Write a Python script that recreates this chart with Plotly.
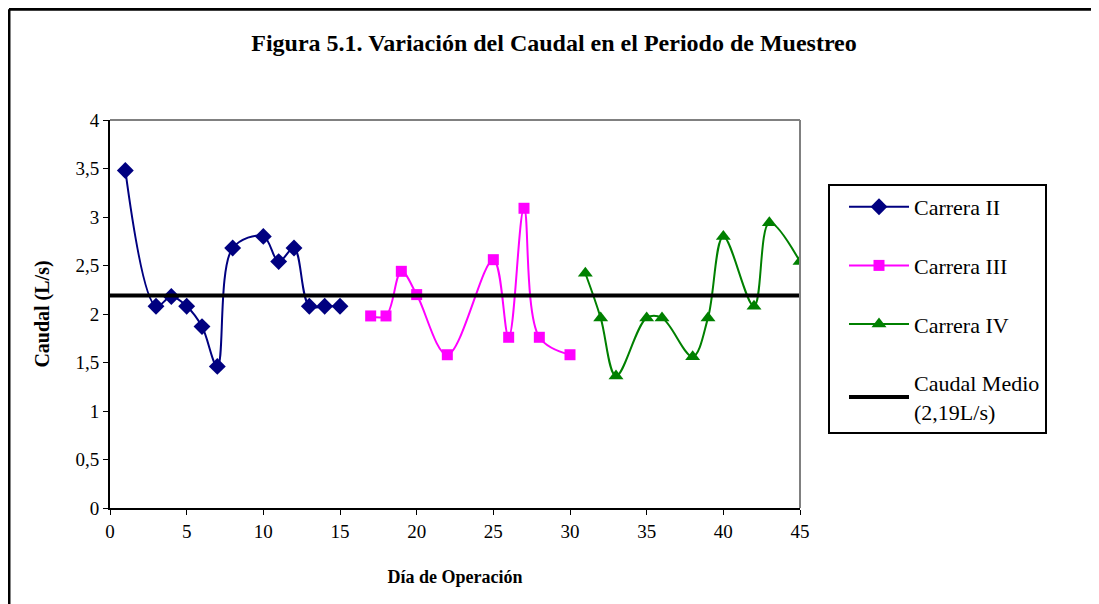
import plotly.graph_objects as go

# Data
dias_ii = [1, 3, 4, 5, 6, 7, 8, 10, 11, 12, 13, 14, 15]
caudal_ii = [3.48, 2.08, 2.18, 2.08, 1.87, 1.46, 2.68, 2.80, 2.54, 2.68, 2.08, 2.08, 2.08]

dias_iii = [17, 18, 19, 20, 22, 25, 26, 27, 28, 30]
caudal_iii = [1.98, 1.98, 2.44, 2.20, 1.58, 2.56, 1.76, 3.09, 1.76, 1.58]

dias_iv = [31, 32, 33, 35, 36, 38, 39, 40, 42, 43, 45]
caudal_iv = [2.42, 1.96, 1.36, 1.96, 1.96, 1.56, 1.96, 2.80, 2.08, 2.94, 2.54]

medio_x = [0, 45]
medio_y = [2.19, 2.19]

FONT = "Liberation Serif"

fig = go.Figure()
fig.add_trace(go.Scatter(
    x=dias_ii, y=caudal_ii, name="Carrera II", legendgroup="a",
    mode="lines+markers", line=dict(color="#000080", width=2, shape="spline", smoothing=1),
    marker=dict(symbol="diamond", size=13, color="#000080")))
fig.add_trace(go.Scatter(
    x=dias_iii, y=caudal_iii, name="Carrera III", legendgroup="b",
    mode="lines+markers", line=dict(color="#FF00FF", width=2, shape="spline", smoothing=1),
    marker=dict(symbol="square", size=11, color="#FF00FF")))
fig.add_trace(go.Scatter(
    x=dias_iv, y=caudal_iv, name="Carrera IV", legendgroup="c",
    mode="lines+markers", line=dict(color="#008000", width=2, shape="spline", smoothing=1),
    marker=dict(symbol="triangle-up", size=13, color="#008000")))
fig.add_trace(go.Scatter(
    x=medio_x, y=medio_y, name="Caudal Medio<br>(2,19L/s)", legendgroup="d",
    mode="lines", line=dict(color="black", width=4)))

shapes = [
    # plot area top/right gray border
    dict(type="line", xref="paper", yref="paper", x0=0, x1=1, y0=1, y1=1,
         line=dict(color="#808080", width=2)),
    dict(type="line", xref="paper", yref="paper", x0=1, x1=1, y0=0, y1=1,
         line=dict(color="#808080", width=2)),
    # outer chart border (top and left)
    dict(type="line", xref="paper", yref="paper", x0=-0.1464, x1=1.45, y0=1.2855, y1=1.2855,
         line=dict(color="black", width=3)),
    dict(type="line", xref="paper", yref="paper", x0=-0.1464, x1=-0.1464, y0=-0.3, y1=1.2855,
         line=dict(color="black", width=3)),
]

fig.update_layout(
    width=1091, height=596,
    margin=dict(l=102, r=299, t=112, b=96),
    paper_bgcolor="white", plot_bgcolor="white",
    separators=",.",
    font=dict(family=FONT, size=19, color="black"),
    title=dict(text="<b>Figura 5.1. Variación del Caudal en el Periodo de Muestreo</b>",
               x=(554 - 8) / 1091, xanchor="center", xref="container",
               y=1 - 35 / 596, yanchor="middle", yref="container",
               font=dict(family=FONT, size=24, color="black")),
    xaxis=dict(range=[0, 45], dtick=5, tick0=0, showgrid=False, zeroline=False,
               showline=True, linecolor="black", linewidth=2,
               ticks="outside", ticklen=5, tickwidth=1, tickcolor="black",
               title=dict(text="<b>Día de Operación</b>", standoff=30,
                          font=dict(family=FONT, size=18))),
    yaxis=dict(range=[0, 4], dtick=0.5, tick0=0, showgrid=False, zeroline=False,
               showline=True, linecolor="black", linewidth=2,
               ticks="outside", ticklen=5, tickwidth=1, tickcolor="black",
               title=dict(text="<b>Caudal (L/s)</b>", standoff=20,
                          font=dict(family=FONT, size=20))),
    legend=dict(x=(828 - 110) / 690, y=(508 - 184) / 388, xanchor="left", yanchor="top",
                bordercolor="black", borderwidth=2, bgcolor="white",
                tracegroupgap=27, font=dict(family=FONT, size=22),
                itemwidth=60, indentation=14,
                traceorder="grouped"),
    shapes=shapes,
)

fig.write_html("out.html")
